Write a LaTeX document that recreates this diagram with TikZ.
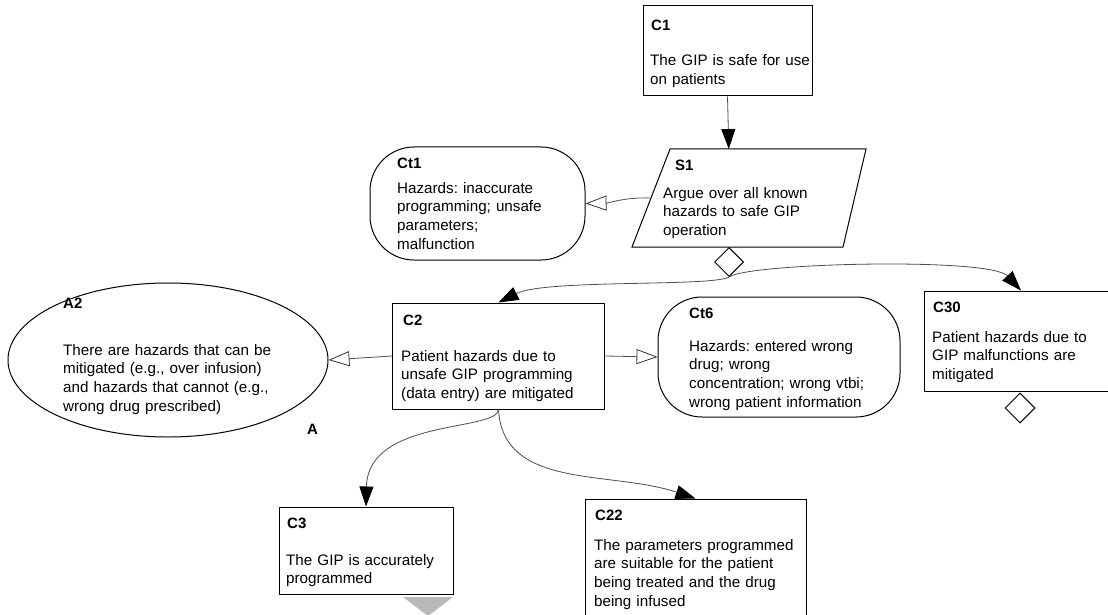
\documentclass[tikz,border=0pt]{standalone}
\usepackage{fontspec}
\setmainfont{Liberation Sans}
\usetikzlibrary{arrows.meta,shapes.geometric,calc}
\frenchspacing

\begin{document}
\begin{tikzpicture}[x=1pt,y=-1pt,
  box/.style={draw=black, line width=1pt, fill=white, inner sep=0pt},
  goal/.style={box, rectangle},
  ctx/.style={box, rectangle, rounded corners=44pt},
  ttl/.style={anchor=base west, inner sep=0pt, font=\fontsize{15}{18.7}\selectfont\bfseries},
  txt/.style={anchor=base west, inner sep=0pt, align=left, text width=260pt, font=\fontsize{15.2}{18.7}\selectfont},
  link/.style={draw=black!70, line width=0.8pt},
  solved/.style={link, -{Triangle[length=20pt,width=14pt,color=black]}},
  incontext/.style={link, -{Triangle[open,length=21pt,width=15pt,color=black!80]}},
  opt/.style={diamond, draw=black, line width=1pt, fill=white, inner sep=0pt, minimum width=29pt, minimum height=29pt},
]
\useasboundingbox (0,0) rectangle (1108,615);
\clip (0,0) rectangle (1108,615);

% ---- goal and context shapes
\node[goal, minimum width=169pt, minimum height=90pt] (C1) at (727.5,51) {};
\node[ctx, minimum width=215pt, minimum height=113pt] (Ct1) at (477.5,203.5) {};
\node[box, ellipse, minimum width=320pt, minimum height=154pt] (A2) at (168,360) {};
\node[goal, minimum width=212pt, minimum height=106pt] (C2) at (498.5,356) {};
\node[ctx, minimum width=242pt, minimum height=120pt] (Ct6) at (779,357) {};
\node[goal, minimum width=194pt, minimum height=100pt] (C30) at (1021,341) {};
\node[goal, minimum width=174pt, minimum height=87pt] (C3) at (366,550.5) {};
\node[goal, minimum width=221pt, minimum height=131pt] (C22) at (695.5,564.5) {};

% ---- strategy S1 (parallelogram)
\coordinate (S1tl) at (670,149);
\coordinate (S1tr) at (866,149);
\coordinate (S1br) at (843,247);
\coordinate (S1bl) at (632,247);
\draw[line width=1pt, fill=white] (S1tl) -- (S1tr) -- (S1br) -- (S1bl) -- cycle;
\coordinate (S1top) at ($(S1tl)!0.3!(S1tr)$);
\coordinate (S1left) at ($(S1bl)!0.5!(S1tl)$);
\node[opt, anchor=north] (S1d) at ($(S1bl)!0.46!(S1br)$) {};

% ---- option diamond under C30
\node[opt, minimum width=30pt, minimum height=30pt, anchor=north] (C30d) at ($(C30.south)+(-1,1)$) {};

% ---- undeveloped marker under C3
\fill[gray!55] (403,597) -- (453,597) -- (428,616) -- cycle;

% ---- connectors
\draw[solved] (C1.south) -- (S1top);
\draw[incontext] (S1left) .. controls (625,197) and (610,203) .. (Ct1.east);
\draw[solved] (S1d.south) .. controls (712,287) and (545,279) .. (C2.north);
\draw[solved] (S1d.south) .. controls (748,263) and (990,257) .. (C30.north);
\draw[incontext] (C2.west) -- (A2.east);
\draw[incontext] (C2.east) -- (Ct6.west);
\draw[solved] (C2.south) .. controls (497,432) and (368,418) .. (C3.north);
\draw[solved] (C2.south) .. controls (503,490) and (610,470) .. (C22.north);

% ---- texts
\node[ttl] (C1-id) at (651,31) {C1};
\node[txt] (C1-text) at (650,66) {The GIP is safe for use\\on patients};

\node[ttl] (S1) at (675,171) {S1};
\node[txt] (S1-text) at (663,198) {Argue over all known\\hazards to safe GIP\\operation};

\node[ttl] (Ct1-id) at (397,168) {Ct1};
\node[txt] (Ct1-text) at (397,193) {Hazards: inaccurate\\programming; unsafe\\parameters;\\malfunction};

\node[ttl] (A2-id) at (63,308) {A2};
\node[txt] (A2-text) at (63,355) {There are hazards that can be\\mitigated (e.g., over infusion)\\and hazards that cannot (e.g.,\\wrong drug prescribed)};
\node[ttl] (A2-mark) at (307,434) {A};

\node[ttl] (C2-id) at (403,325) {C2};
\node[txt] (C2-text) at (401,361) {Patient hazards due to\\unsafe GIP programming\\(data entry) are mitigated};

\node[ttl] (Ct6-id) at (689,318) {Ct6};
\node[txt] (Ct6-text) at (689,351) {Hazards: entered wrong\\drug; wrong\\concentration; wrong vtbi;\\wrong patient information};

\node[ttl] (C30-id) at (933,312) {C30};
\node[txt] (C30-text) at (932,342) {Patient hazards due to\\GIP malfunctions are\\mitigated};

\node[ttl] (C3-id) at (287,528) {C3};
\node[txt] (C3-text) at (286,565) {The GIP is accurately\\programmed};

\node[ttl] (C22-id) at (595,520) {C22};
\node[txt] (C22-text) at (594,550) {The parameters programmed\\are suitable for the patient\\being treated and the drug\\being infused};
\end{tikzpicture}
\end{document}
